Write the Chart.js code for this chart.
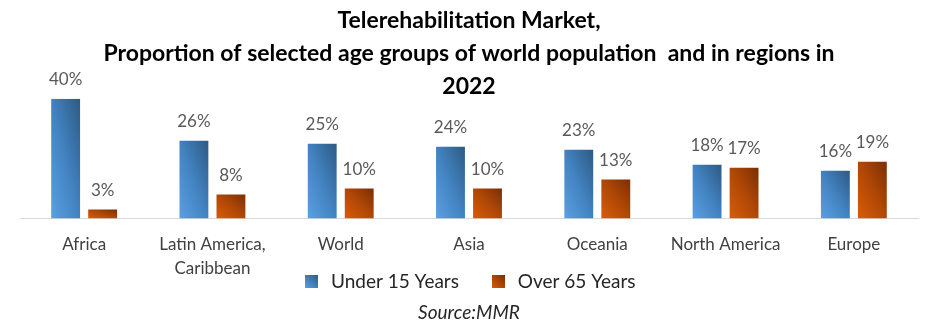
<!DOCTYPE html>
<html>
<head>
<meta charset="utf-8">
<script src="https://cdn.jsdelivr.net/npm/chart.js@4.4.0/dist/chart.umd.min.js"></script>
<style>
  html, body { margin: 0; padding: 0; background: #fff; }
  #wrap { width: 941px; height: 332px; position: relative; }
</style>
</head>
<body>
<div id="wrap"><canvas id="ageChart"></canvas></div>
<script>
// Telerehabilitation Market - age groups by region

const regions = [
  "Africa",
  ["Latin America,", "Caribbean"],
  "World",
  "Asia",
  "Oceania",
  "North America",
  "Europe",
];
const under15 = [40, 26, 25, 24, 23, 18, 16];
const over65 = [3, 8, 10, 10, 13, 17, 19];

const seriesNames = ["Under 15 Years", "Over 65 Years"];
const titleLines = [
  "Telerehabilitation Market,",
  "Proportion of selected age groups of world population  and in regions in",
  "2022",
];

// light -> dark colour stops for each series
const gradStops = [
  ["#5ba0e2", "#4282c0", "#2d5a83"],
  ["#d95c08", "#b14806", "#7a2f04"],
];

const ctx = document.getElementById("ageChart").getContext("2d");

// Diagonal gradient on each bar, scaled with the bar's shape
// (bottom-left light, top-right dark)
const barGradient = {
  id: "barGradient",
  beforeDatasetsDraw(chart) {
    const c = chart.ctx;
    chart.data.datasets.forEach((ds, i) => {
      const meta = chart.getDatasetMeta(i);
      meta.data.forEach((bar) => {
        const p = bar.getProps(["x", "y", "base", "width"], true);
        const w = p.width;
        const h = Math.abs(p.base - p.y);
        const x0 = p.x - w / 2;
        const y0 = p.base;
        const k = (2 * w * h) / (w * w + h * h);
        const g = c.createLinearGradient(x0, y0, x0 + h * k, y0 - w * k);
        g.addColorStop(0, gradStops[i][0]);
        g.addColorStop(0.5, gradStops[i][1]);
        g.addColorStop(1, gradStops[i][2]);
        // options are shared between bars, so give each its own copy
        bar.options = Object.assign({}, bar.options, { backgroundColor: g });
      });
    });
  },
};

// Value labels above bars
const valueLabels = {
  id: "valueLabels",
  afterDatasetsDraw(chart) {
    const c = chart.ctx;
    c.save();
    c.font = "17px Lato";
    c.fillStyle = "#595959";
    c.textAlign = "center";
    c.textBaseline = "bottom";
    chart.data.datasets.forEach((ds, i) => {
      const meta = chart.getDatasetMeta(i);
      meta.data.forEach((bar, j) => {
        c.fillText(ds.data[j] + "%", bar.x, bar.y - 11);
      });
    });
    c.restore();
  },
};

// Square legend swatches with the same gradient look
function legendSwatch(i) {
  const cv = document.createElement("canvas");
  cv.width = 13;
  cv.height = 13;
  const x = cv.getContext("2d");
  const g = x.createLinearGradient(0, 13, 13, 0);
  g.addColorStop(0, gradStops[i][0]);
  g.addColorStop(1, gradStops[i][2]);
  x.fillStyle = g;
  x.fillRect(0, 0, 13, 13);
  return cv;
}

const ageChart = new Chart(ctx, {
  type: "bar",
  data: {
    labels: regions,
    datasets: [
      {
        label: seriesNames[0],
        data: under15,
        backgroundColor: gradStops[0][1],
        pointStyle: legendSwatch(0),
      },
      {
        label: seriesNames[1],
        data: over65,
        backgroundColor: gradStops[1][1],
        pointStyle: legendSwatch(1),
      },
    ],
  },
  options: {
    responsive: true,
    maintainAspectRatio: false,
    animation: false,
    categoryPercentage: 0.577,
    barPercentage: 0.78,
    layout: {
      padding: { top: 4, left: 20, right: 23, bottom: 0 },
    },
    plugins: {
      title: {
        display: true,
        text: titleLines,
        color: "#000",
        font: { family: "Lato", size: 23, weight: "bold", lineHeight: 1.43 },
        padding: { top: 0, bottom: -4 },
      },
      subtitle: {
        display: true,
        position: "bottom",
        text: "Source:MMR",
        color: "#262626",
        font: { family: "Lato", size: 19, style: "italic" },
        padding: { top: 0, bottom: 8 },
      },
      legend: {
        display: true,
        position: "bottom",
        labels: {
          usePointStyle: true,
          color: "#262626",
          font: { family: "Lato", size: 19 },
          padding: 6,
          generateLabels(chart) {
            const items = Chart.defaults.plugins.legend.labels.generateLabels(chart);
            items[0].text = items[0].text + "     ";
            return items;
          },
        },
      },
      tooltip: { enabled: false },
    },
    scales: {
      x: {
        grid: { display: false },
        border: { display: true, color: "#d9d9d9", width: 1 },
        ticks: {
          color: "#404040",
          font: { family: "Lato", size: 17, lineHeight: 1.4 },
          padding: 6,
          maxRotation: 0,
          autoSkip: false,
        },
        // let the two-line label hang down beside the legend, as in the original
        afterFit(scale) {
          scale.height -= 20;
          scale._computeLabelArea = () => undefined; // no clipping of tick labels
        },
      },
      y: {
        display: false,
        min: 0,
        max: 40,
      },
    },
  },
  plugins: [barGradient, valueLabels],
});
</script>
</body>
</html>
